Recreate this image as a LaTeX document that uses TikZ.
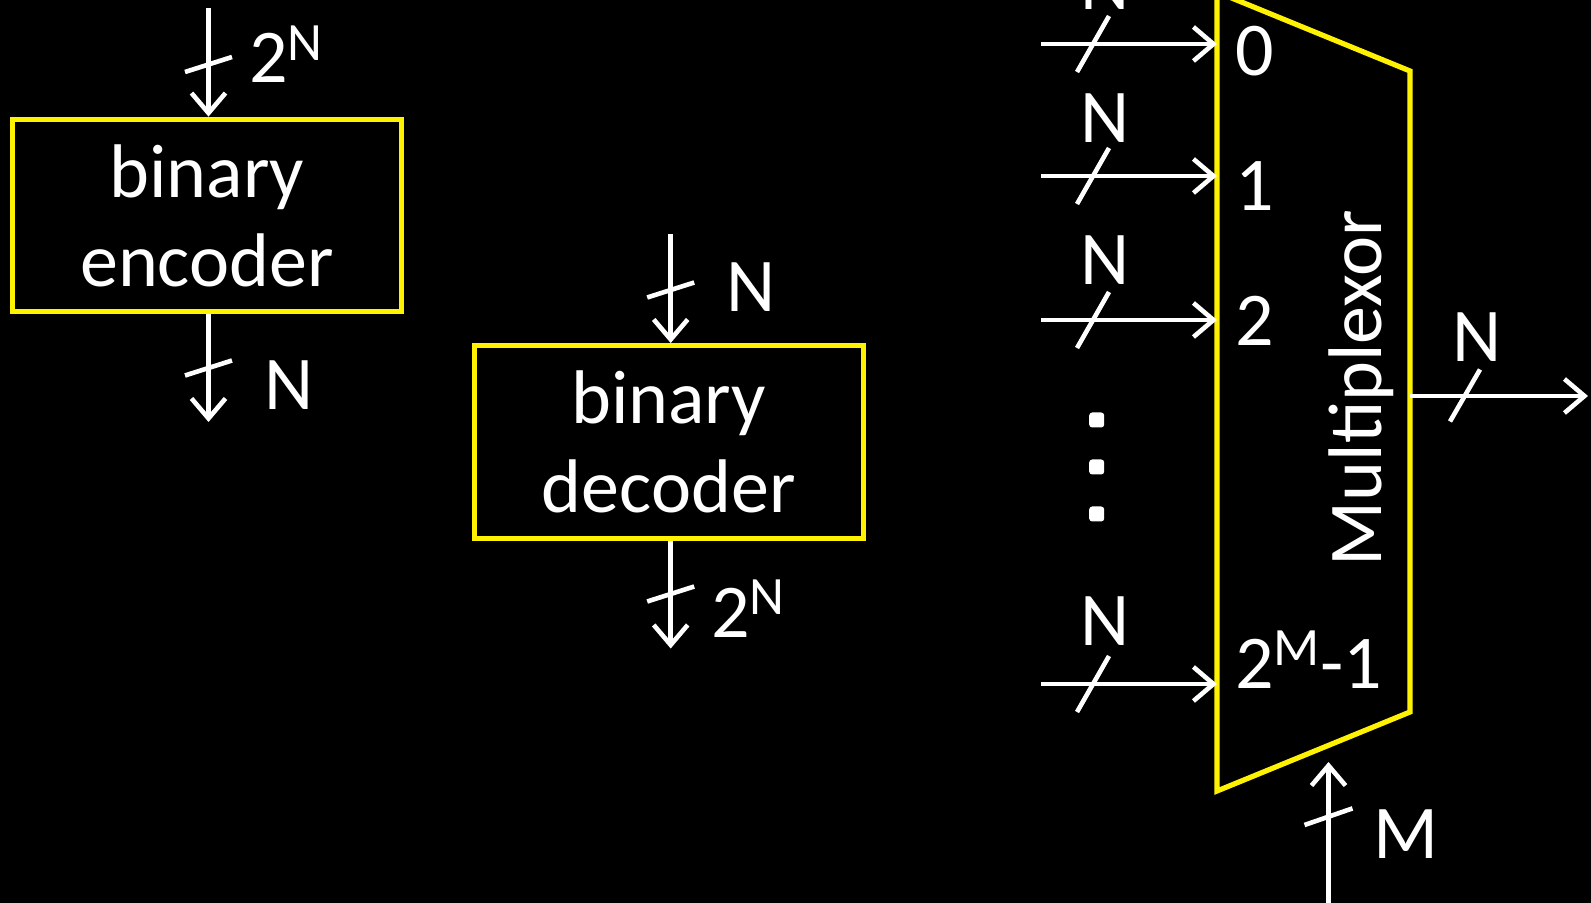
\documentclass[tikz,border=0pt]{standalone}
\usepackage{fontspec}
\setmainfont{Carlito}
\usetikzlibrary{arrows.meta}
\newcommand\sps[1]{\raisebox{0.3em}{\fontsize{27}{27}\selectfont #1}}

\begin{document}
\begin{tikzpicture}[x=0.5pt, y=-0.5pt,
  box/.style={draw=yellow, line width=2.6pt, minimum width=194.5pt,
    minimum height=96.3pt, align=center, text=white,
    font=\fontsize{38}{44.5}\selectfont},
  bus/.style={draw=white, line width=2.3pt, -{Straight Barb[length=10pt,width=17pt]}},
  busmark/.style={draw=white, line width=2.3pt},
  lbl/.style={text=white, inner sep=0pt, font=\fontsize{38}{44.5}\selectfont}]
\fill[black] (0,0) rectangle (1591,903);
\useasboundingbox (0,0) rectangle (1591,903);

% encoder
\node[box] (enc) at (207,215.5) {binary\\encoder};
\coordinate (encin) at (208.5,8);
\coordinate (encout) at (208.5,422);
\draw[bus] (encin) -- (encin |- enc.north);
\draw[busmark] (208.5,64.5) ++(-23.5,7.5) -- ++(47,-15);
\node[lbl, anchor=base west] (encinlbl) at (249,83) {2\sps{N}};
\draw[bus] (encout |- enc.south) -- (encout);
\draw[busmark] (208.5,368) ++(-23.5,7.5) -- ++(47,-15);
\node[lbl, anchor=base] (encoutlbl) at (289,410) {N};

% decoder
\node[box] (dec) at (668.7,441.9) {binary\\decoder};
\coordinate (decin) at (670.7,234);
\coordinate (decout) at (670.7,648.5);
\draw[bus] (decin) -- (decin |- dec.north);
\draw[busmark] (670.7,290) ++(-23.5,7.5) -- ++(47,-15);
\node[lbl, anchor=base] (decinlbl) at (751,311.7) {N};
\draw[bus] (decout |- dec.south) -- (decout);
\draw[busmark] (670.7,594) ++(-23.5,7.5) -- ++(47,-15);
\node[lbl, anchor=base west] (decoutlbl) at (711,637) {2\sps{N}};

% multiplexor
\draw[yellow, line width=2.6pt] (1217,-8) coordinate (m0) -- (1410,71) coordinate (m1)
  -- (1410,712) coordinate (m2) -- (1217,791) coordinate (m3) -- cycle;
\node[lbl, rotate=90] (muxlbl) at (1361,388) {Multiplexor};
\foreach \y/\ny/\ly/\txt in {44/10/76/0, 176/143/211/1, 320/285/346/2, 684/645/688/{2\sps{M}-1}} {
  \coordinate (in\y) at (1041,\y);
  \draw[bus] (in\y) -- (in\y -| m0);
  \draw[busmark] (1093,\y) ++(-16,28) -- ++(32,-56);
  \node[lbl, anchor=base] (nin\y) at (1105,\ny) {N};
  \node[lbl, anchor=base west] (sel\y) at (1235,\ly) {\txt};
}
\foreach \d in {420,467,514}
  \fill[white, rounded corners=1.5pt] (1096.7,\d) ++(-7.5,-7.5) rectangle ++(15,15);

% output and select
\coordinate (out) at (1588,396);
\draw[bus] (out -| m1) -- (out);
\draw[busmark] (1465,395.5) ++(-15,26) -- ++(30,-52);
\node[lbl, anchor=base] (outlbl) at (1477.5,361.7) {N};
\coordinate (sel) at (1328.5,903);
\coordinate (selend) at (1328.5,762);
\draw[bus] (sel) -- (selend);
\draw[busmark] (1328.5,816.7) ++(-24,8.3) -- ++(48,-16.6);
\node[lbl, anchor=base west] (sellbl) at (1373,858) {M};
\end{tikzpicture}
\end{document}
